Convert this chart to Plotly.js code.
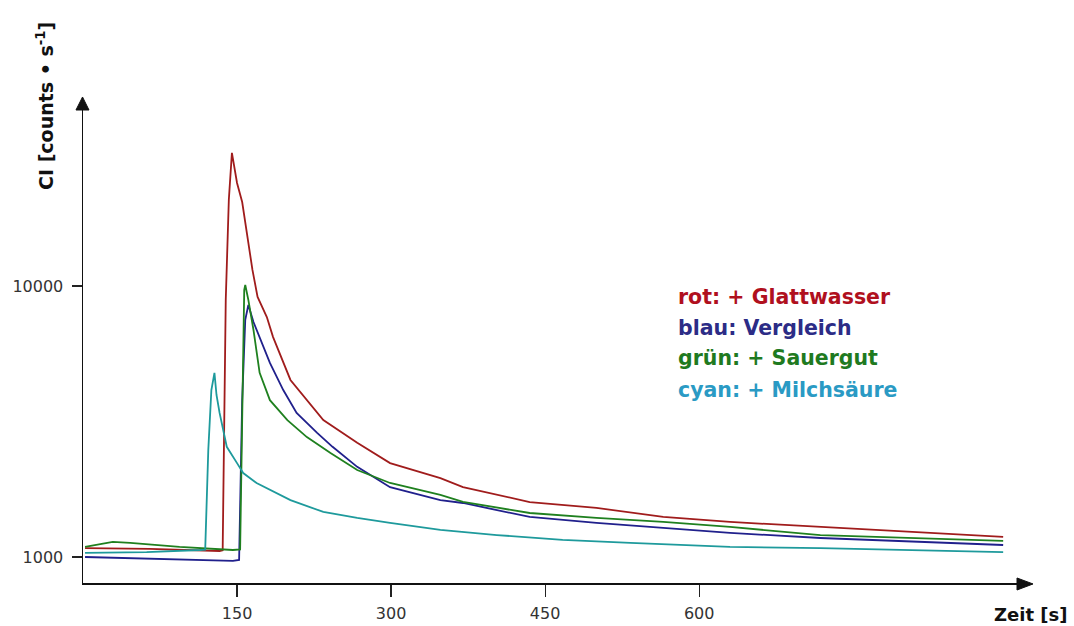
<!DOCTYPE html>
<html>
<head>
<meta charset="utf-8">
<script src="https://cdn.plot.ly/plotly-3.0.1.min.js"></script>
<style>html,body{margin:0;padding:0;background:#fff;}#chart{width:1074px;height:626px;}</style>
</head>
<body>
<div id="chart"></div>
<script>
// Time [s] and chemiluminescence intensity [counts/s]
const redT   = [2, 65, 133, 136, 139, 142, 145, 150, 155, 160, 165, 170, 179, 185, 202, 234, 267, 299, 348, 370, 435, 500, 565, 630, 718, 815, 896];
const redY   = [1079, 1071, 1052, 1059, 8880, 20800, 30970, 23990, 20400, 15170, 11460, 9110, 7680, 6490, 4500, 3200, 2640, 2220, 1955, 1810, 1595, 1517, 1405, 1347, 1291, 1237, 1186];

const blueT  = [2, 78, 146, 152, 155, 158, 161, 166, 169, 175, 182, 195, 208, 228, 243, 267, 299, 348, 370, 435, 500, 565, 630, 718, 815, 896];
const blueY  = [1000, 984, 967, 975, 3790, 7500, 8510, 7360, 6880, 6060, 5200, 4130, 3400, 2870, 2550, 2150, 1810, 1622, 1582, 1405, 1335, 1280, 1227, 1175, 1136, 1107];

const greenT = [2, 29, 46, 94, 146, 153, 155, 157, 158, 161, 166, 172, 182, 199, 218, 241, 267, 299, 348, 370, 435, 500, 565, 630, 718, 815, 896];
const greenY = [1089, 1136, 1127, 1089, 1061, 1066, 3206, 9665, 10080, 8880, 6880, 4780, 3790, 3200, 2770, 2420, 2094, 1875, 1694, 1597, 1453, 1393, 1347, 1291, 1205, 1175, 1146];

const cyanT  = [2, 62, 114, 119, 122, 125, 128, 130, 133, 140, 150, 156, 169, 202, 234, 267, 299, 348, 403, 467, 533, 630, 718, 815, 896];
const cyanY  = [1035, 1043, 1061, 1065, 2483, 4130, 4780, 3960, 3400, 2550, 2220, 2040, 1875, 1622, 1466, 1393, 1335, 1259, 1205, 1156, 1127, 1089, 1079, 1061, 1043];

const xTicks = [150, 300, 450, 600];
const yTicks = [1000, 10000];
const yTickText = ["1000", "10000"];

const legendLabels = ["rot: + Glattwasser", "blau: Vergleich", "grün: + Sauergut", "cyan: + Milchsäure"];
const xTitle = "Zeit [s]";
const yTitle = "CI [counts • s<sup>-1</sup>]";

const lineColors = ["#a01c1c", "#20208c", "#1f801f", "#1e9a9c"];
const textColors = ["#b0101e", "#2c2c86", "#1f7a1f", "#2a9ac4"];

const series = [[redT, redY], [blueT, blueY], [greenT, greenY], [cyanT, cyanY]];
const traces = series.map((s, i) => ({
  x: s[0], y: s[1], type: 'scatter', mode: 'lines',
  line: {color: lineColors[i], width: 1.8}, hoverinfo: 'skip', showlegend: false
}));

const legendY = [0.5996, 0.5346, 0.4717, 0.4046];
const annotations = legendLabels.map((t, i) => ({
  text: '<b>' + t + '</b>', xref: 'paper', yref: 'paper', x: 0.633, y: legendY[i],
  xanchor: 'left', yanchor: 'middle', showarrow: false,
  font: {family: 'DejaVu Sans', size: 20.5, color: textColors[i]}
}));
annotations.push({
  text: '<b>' + yTitle + '</b>', xref: 'paper', yref: 'paper', x: -0.0406, y: 1.0,
  xanchor: 'center', yanchor: 'middle', textangle: -90, showarrow: false,
  font: {family: 'DejaVu Sans', size: 19, color: '#111'}
});
annotations.push({
  text: '<b>' + xTitle + '</b>', xref: 'paper', yref: 'paper', x: 1.0107, y: -0.065,
  xanchor: 'center', yanchor: 'middle', showarrow: false,
  font: {family: 'DejaVu Sans', size: 18, color: '#111'}
});

const layout = {
  width: 1074, height: 626,
  margin: {l: 83, r: 54, t: 106, b: 43},
  paper_bgcolor: '#fff', plot_bgcolor: '#fff',
  showlegend: false,
  xaxis: {
    range: [0, 912.4], showgrid: false, zeroline: false,
    showline: true, linecolor: '#111', linewidth: 1.5,
    ticks: 'outside', ticklen: 12, tickwidth: 1.2, tickcolor: '#222',
    tickvals: xTicks, ticktext: xTicks.map(String), ticklabelstandoff: 3,
    tickfont: {family: 'DejaVu Sans', size: 16, color: '#333'}
  },
  yaxis: {
    type: 'log', range: [2.904, 4.664], showgrid: false, zeroline: false,
    showline: true, linecolor: '#111', linewidth: 1.5,
    ticks: 'outside', ticklen: 10, tickwidth: 1.2, tickcolor: '#222',
    tickvals: yTicks, ticktext: yTickText, ticklabelstandoff: 5,
    tickfont: {family: 'DejaVu Sans', size: 16, color: '#333'}
  },
  shapes: [
    {type: 'path', xref: 'paper', yref: 'paper', path: 'M -0.0075 0.9916 L 0.0064 0.9916 L -0.0005 1.0189 Z',
     fillcolor: '#111', line: {color: '#111', width: 1}},
    {type: 'path', xref: 'paper', yref: 'paper', path: 'M 0.9968 0.0105 L 0.9968 -0.0147 L 1.0139 -0.002 Z',
     fillcolor: '#111', line: {color: '#111', width: 1}}
  ],
  annotations: annotations
};

Plotly.newPlot('chart', traces, layout, {staticPlot: true});
</script>
</body>
</html>
